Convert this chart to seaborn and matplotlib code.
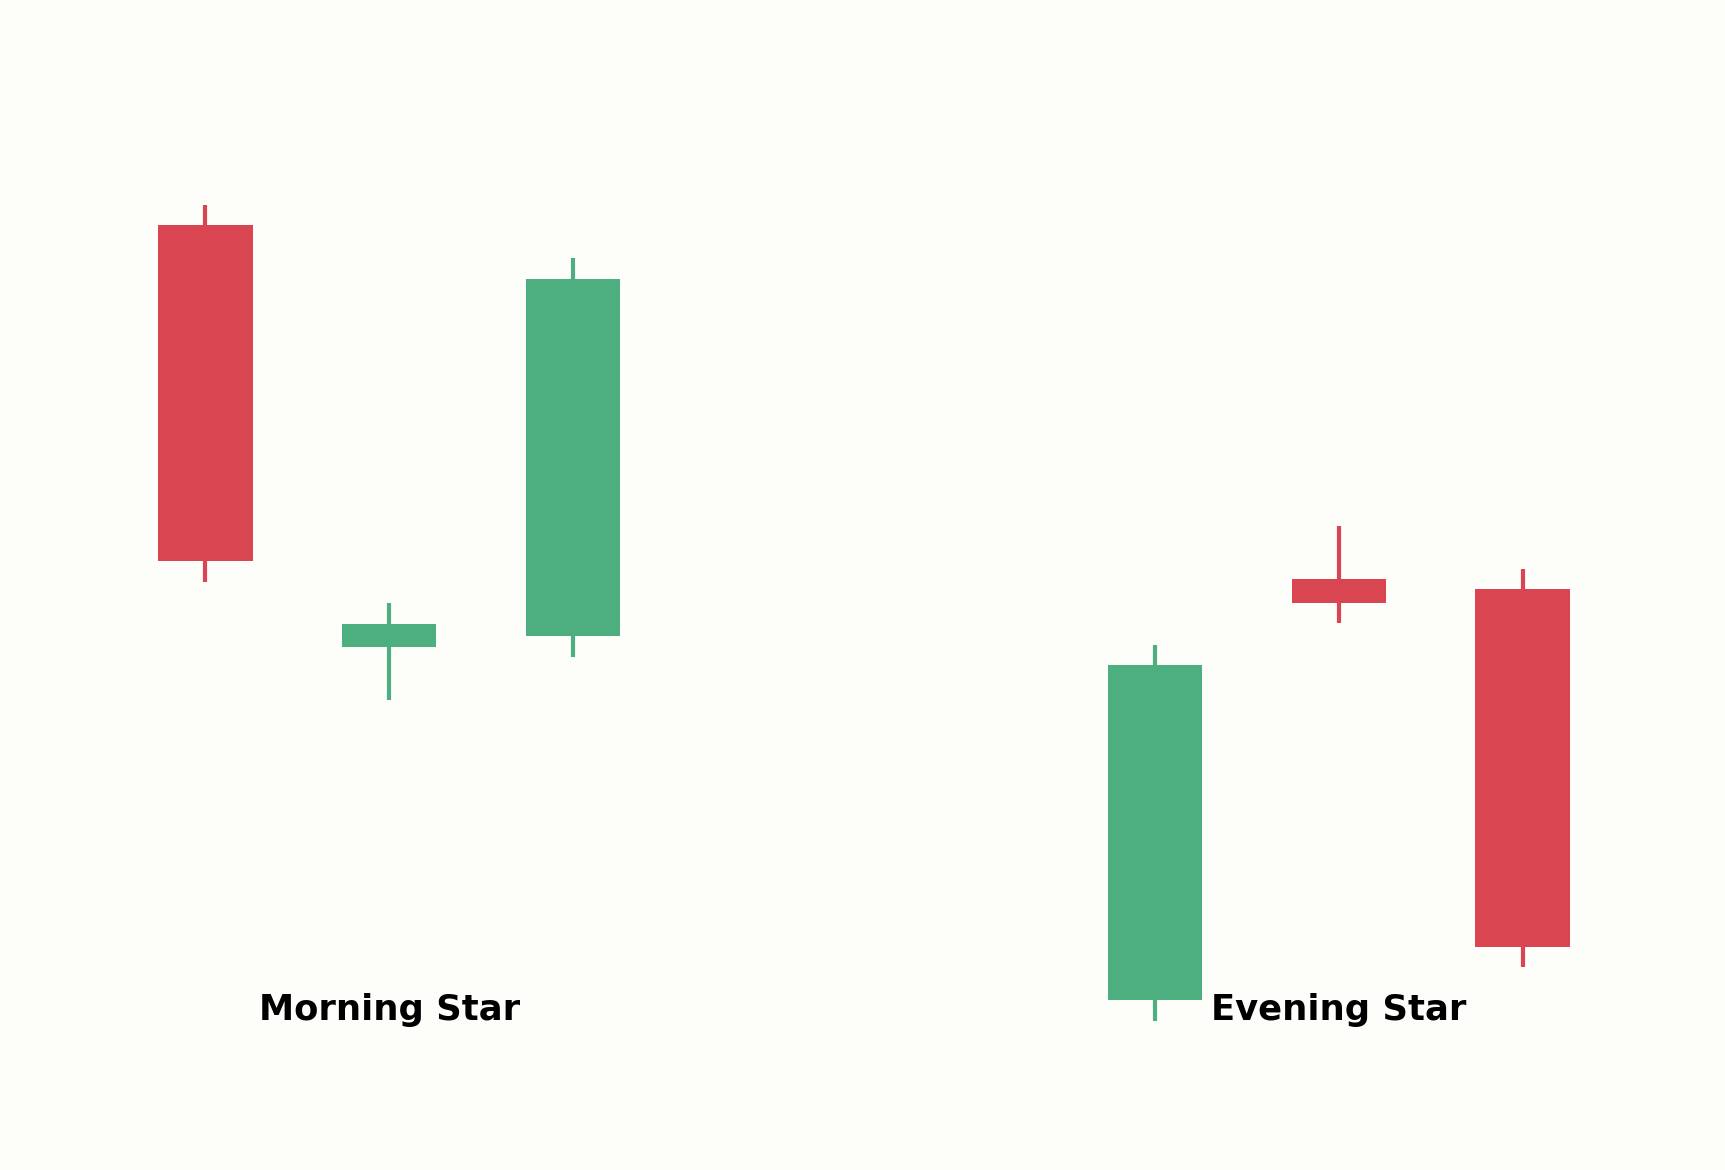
import matplotlib
matplotlib.use("Agg")
import matplotlib.pyplot as plt
import seaborn as sns

# candle data: morning star (left) and evening star (right)
positions = [1, 2, 3, 6.17, 7.17, 8.17]
opens = [94.5, 52.3, 53.4, 17.0, 59.1, 58.1]
closes = [60.9, 54.6, 89.1, 50.5, 56.7, 22.3]
highs = [96.5, 56.7, 91.2, 52.5, 64.4, 60.1]
lows = [58.8, 47.0, 51.3, 14.9, 54.7, 20.3]

pattern_names = ["Morning Star", "Evening Star"]
pattern_x = [2, 7.17]
label_y = 15.0

up_color = "#4daf7f"
down_color = "#d94651"
bg_color = "#fdfdfa"

sns.set_style("white")
plt.rcParams["font.family"] = ["DejaVu Sans"]

fig = plt.figure(figsize=(11.5, 7.8), dpi=150, facecolor=bg_color)
ax = fig.add_axes([0, 0, 1, 1])
ax.set_facecolor(bg_color)

for x, o, c, h, l in zip(positions, opens, closes, highs, lows):
    col = up_color if c >= o else down_color
    ax.vlines(x, l, h, color=col, linewidth=2, zorder=1)
    ax.bar(x, abs(c - o), bottom=min(o, c), width=0.513, color=col,
           linewidth=0, zorder=2)

for name, x in zip(pattern_names, pattern_x):
    ax.text(x, label_y, name, ha="center", va="baseline", fontsize=17,
            fontweight="bold", color="black", zorder=3)

ax.set_xlim(-0.1187, 9.272)
ax.set_ylim(0, 117)
ax.axis("off")

fig.savefig("out.png", dpi=150, facecolor=bg_color)
